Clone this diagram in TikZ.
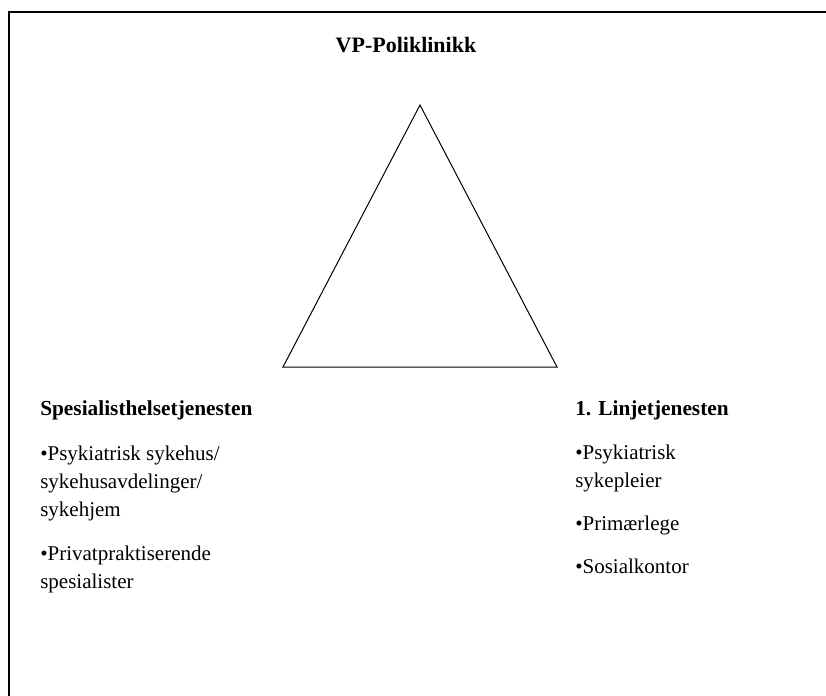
\documentclass[tikz,border=0pt]{standalone}
\usepackage{fontspec}
\setmainfont{Liberation Serif}
\newlength{\du}
\setlength{\du}{0.75pt}
\newcommand{\itemlines}[1]{\begin{tabular}[t]{@{}l@{}}#1\end{tabular}}

\begin{document}
\begin{tikzpicture}
\pgftransformxscale{1.000000}
\pgftransformyscale{-1.000000}
\tikzset{
  frameline/.style={line width=1.5\du, draw=black},
  triline/.style={line width=1\du, draw=black, line join=miter},
  heading/.style={anchor=base west, inner sep=0pt, font=\fontsize{16}{21}\selectfont\bfseries},
  item/.style={anchor=base west, inner sep=0pt, font=\fontsize{15.75}{21}\selectfont},
}
\useasboundingbox (0\du,0\du) rectangle (826\du,696\du);
% frame, only left and top edges are on the page
\coordinate (framebottom) at (9\du,700\du);
\coordinate (frameright) at (830\du,12\du);
\draw[frameline] (framebottom) |- (frameright);
% triangle
\coordinate (apex) at (420\du,105\du);
\coordinate (leftcorner) at (283\du,367\du);
\coordinate (rightcorner) at (557\du,367\du);
\draw[triline] (apex)--(leftcorner)--(rightcorner)--cycle;
% setfont left to latex
\node[anchor=base, inner sep=0pt, font=\fontsize{16.5}{21}\selectfont\bfseries] (poliklinikk) at (406\du,52\du){VP-Poliklinikk};
\node[heading] (spesialist) at (40\du,415\du){Spesialisthelsetjenesten};
\node[item] (sykehus) at (40\du,460\du){\itemlines{•Psykiatrisk sykehus/\\sykehusavdelinger/\\sykehjem}};
\node[item] (privat) at (40\du,560\du){\itemlines{•Privatpraktiserende\\spesialister}};
\node[heading] (linje) at (575\du,415\du){1. Linjetjenesten};
\node[item] (sykepleier) at (575\du,459\du){\itemlines{•Psykiatrisk\\sykepleier}};
\node[item] (primaer) at (575\du,530\du){•Primærlege};
\node[item] (sosial) at (575\du,573\du){•Sosialkontor};
\end{tikzpicture}
\end{document}
